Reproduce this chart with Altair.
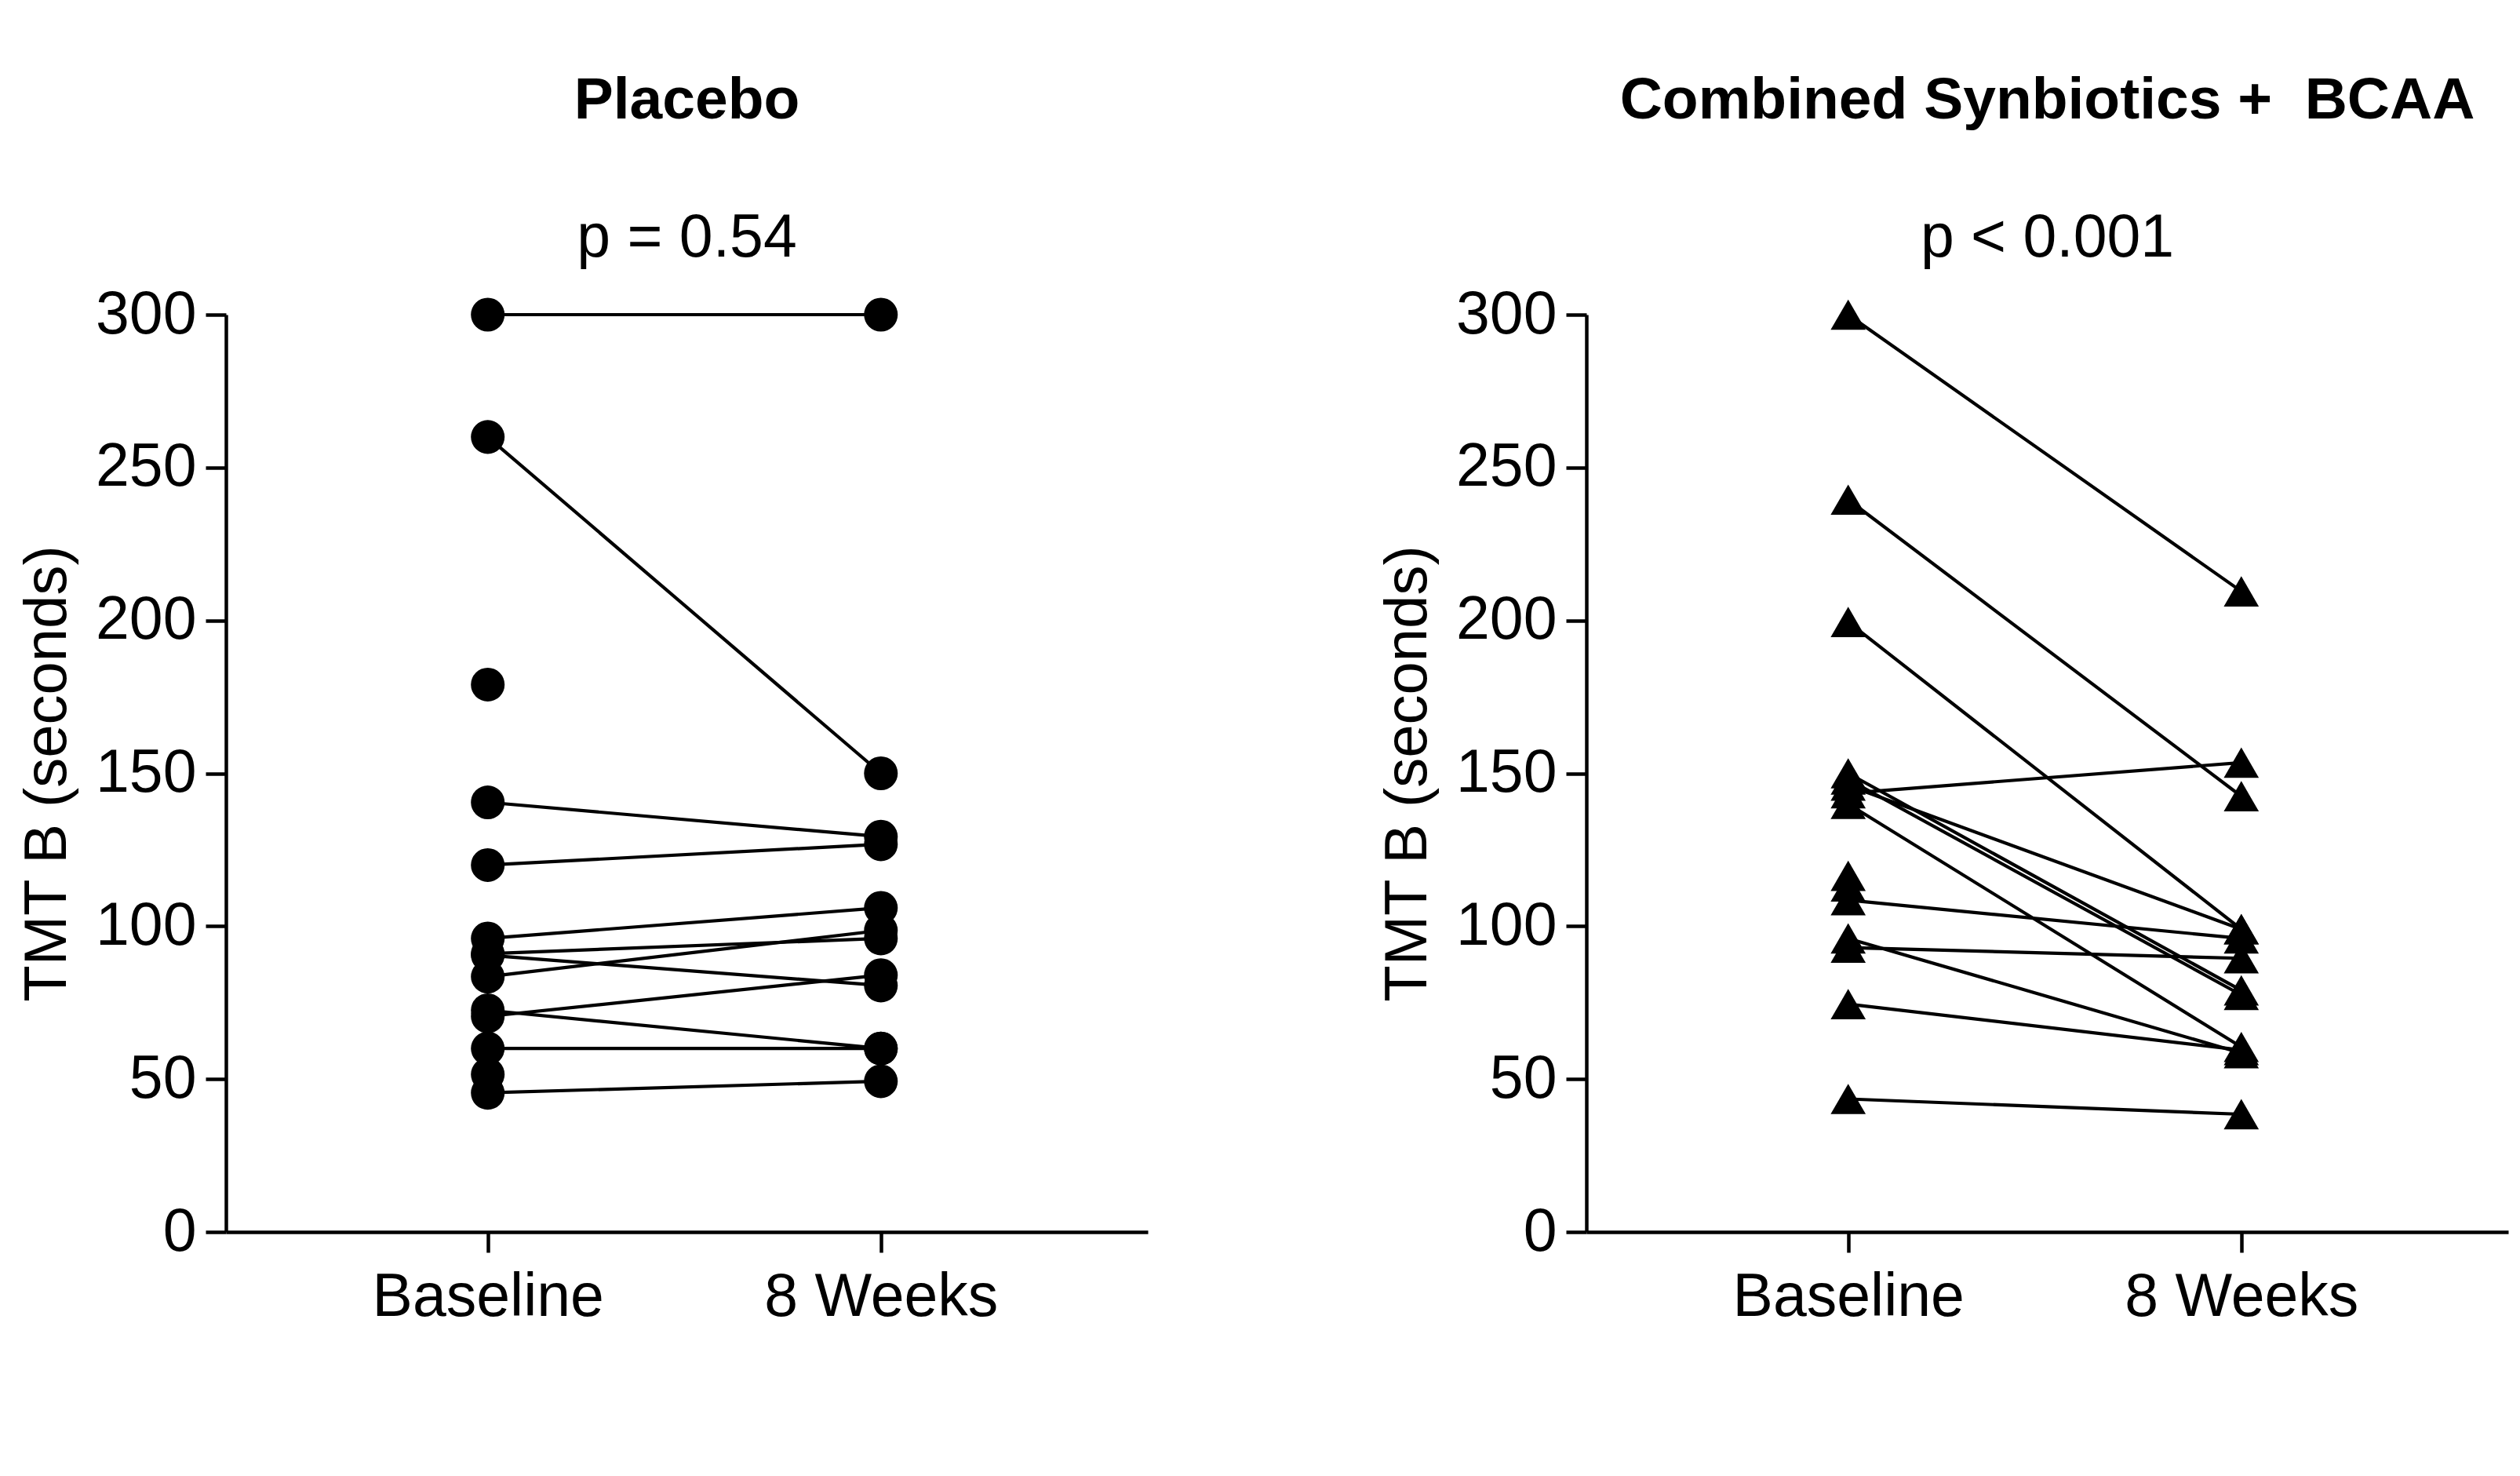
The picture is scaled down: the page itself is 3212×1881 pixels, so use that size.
import altair as alt
import pandas as pd

# ---- data (TMT B, seconds) ----
time_labels = ["Baseline", "8 Weeks"]

placebo_baseline = [300, 260, 179, 140.5, 120, 96, 91, 90.5, 83.5, 72.5, 70.5, 60, 51.5, 45.5]
placebo_week8 = [300, 150, None, 129.3, 126.8, 106, 96, 80.6, 98.6, 60, 84, 60, None, 49.3]

synb_baseline = [300, 239.5, 199.5, 150, 148, 146, 143.5, 140, 116.5, 113, 108.5, 96, 93, 74.5, 43.5]
synb_week8 = [209.5, 142.5, 99, 79, 77.5, 99, 153.5, 60.5, None, None, 96, 58.5, 89.5, 59.5, 38.5]

titles = ["Placebo", "Combined Synbiotics + \u00a0BCAA"]
p_texts = ["p = 0.54", "p < 0.001"]
y_ticks = [0, 50, 100, 150, 200, 250, 300]

FONT = "Liberation Sans"
FS = 77


def long_df(base, wk8):
    rows = []
    for i, (b, w) in enumerate(zip(base, wk8)):
        rows.append({"subject": i, "time": 1, "value": b})
        if w is not None:
            rows.append({"subject": i, "time": 2, "value": w})
    return pd.DataFrame(rows)


def panel(base, wk8, shape, size, title, ptext):
    df = long_df(base, wk8)
    x = alt.X(
        "time:Q",
        scale=alt.Scale(domain=[0.334, 2.679], nice=False, zero=False),
        axis=alt.Axis(
            values=[1, 2],
            labelExpr="datum.value == 1 ? '%s' : '%s'" % (time_labels[0], time_labels[1]),
            title=None,
            labelPadding=19,
            labelFlush=False,
            labelOverlap=False,
            labelLimit=0,
        ),
    )
    y = alt.Y(
        "value:Q",
        scale=alt.Scale(domain=[0, 300], nice=False),
        axis=alt.Axis(
            values=y_ticks,
            title="TMT B (seconds)",
            labelPadding=12,
            titlePadding=22,
            labelOverlap=False,
            labelLimit=0,
        ),
    )
    lines = alt.Chart(df).mark_line(color="black", strokeWidth=4.2).encode(
        x=x, y=y, detail="subject:N"
    )
    pts = alt.Chart(df).mark_point(
        filled=True, shape=shape, size=size, color="black", opacity=1
    ).encode(x=x, y=y)
    return alt.layer(lines, pts).properties(
        width=1175,
        height=1169,
        title=alt.TitleParams(
            text=title,
            subtitle=ptext,
            font=FONT,
            fontSize=75,
            fontWeight="bold",
            color="black",
            subtitleFont=FONT,
            subtitleFontSize=77,
            subtitleColor="black",
            subtitlePadding=99,
            offset=19,
            anchor="middle",
            frame="group",
        ),
    )


left = panel(placebo_baseline, placebo_week8, "circle", 1850, titles[0], p_texts[0])
right = panel(synb_baseline, synb_week8, "triangle-up", 2000, titles[1], p_texts[1])

chart = (
    alt.hconcat(left, right, spacing=293)
    .properties(
        padding={"left": 14, "top": 83, "right": 5, "bottom": 5},
        background="white",
    )
    .configure_view(stroke=None)
    .configure_axis(
        grid=False,
        labelFont=FONT,
        labelFontSize=FS,
        labelColor="black",
        titleFont=FONT,
        titleFontSize=76,
        titleFontWeight="normal",
        titleColor="black",
        domainColor="black",
        domainWidth=4.5,
        tickColor="black",
        tickWidth=4.5,
        tickSize=26,
    )
)

chart.save("out.html", embed_options={"renderer": "svg", "actions": False})
